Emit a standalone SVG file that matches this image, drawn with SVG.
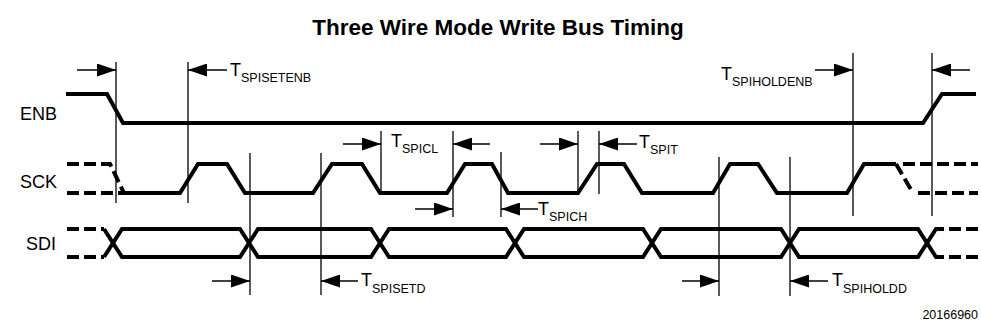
<svg xmlns="http://www.w3.org/2000/svg" width="981" height="328" viewBox="0 0 981 328">
<style>
  text { font-family: "Liberation Sans", Arial, sans-serif; fill: #000; }
  .title { font-size: 22.5px; font-weight: bold; }
  .lbl { font-size: 18px; }
  .t { font-size: 18px; }
  .sub { font-size: 12.5px; }
  .sig { fill: none; stroke: #000; stroke-width: 4; stroke-linejoin: miter; stroke-linecap: butt; }
  .dash { fill: none; stroke: #000; stroke-width: 4; stroke-dasharray: 12 5; }
  .vl { stroke: #000; stroke-width: 1.3; }
  .ar { stroke: #000; stroke-width: 1.3; marker-end: url(#ah); }
  .fig { font-size: 12.5px; }
</style>
<defs>
  <marker id="ah" viewBox="0 0 19 13" refX="19" refY="6.5" markerWidth="19" markerHeight="13" markerUnits="userSpaceOnUse" orient="auto">
    <path d="M0,0 L19,6.5 L0,13 Z" fill="#000"/>
  </marker>
</defs>
<rect width="981" height="328" fill="#fff"/>
<text class="title" x="498" y="35" text-anchor="middle">Three Wire Mode Write Bus Timing</text>

<g id="ENB">
  <text class="lbl" x="57" y="120" text-anchor="end">ENB</text>
  <path class="sig" d="M66,94 H107 L123,123 H923 L942,94 H976"/>
</g>

<g id="SCK">
  <text class="lbl" x="57" y="188" text-anchor="end">SCK</text>
  <path class="dash" d="M67,164 H110 L124,193"/>
  <path class="dash" d="M67,193 H123"/>
  <path class="sig" d="M123,193 H180 L198,164 H227 L245,193 H313 L332,164 H362 L380,193 H447 L465,164 H492 L508,193 H578 L597,164 H624 L642,193 H713 L730,164 H758 L777,193 H847 L864,164 H896"/>
  <path class="dash" d="M896,164 L913,193 M903,164 H978 M918,193 H978"/>
</g>

<g id="SDI">
  <text class="lbl" x="56" y="250" text-anchor="end">SDI</text>
  <path class="dash" d="M67,229 H104 M67,257 H104"/>
  <path class="sig" d="M104,229 L122,257 H240 L258,229 H371 L389,257 H506 L524,229 H643 L661,257 H781 L799,229 H918 L936,257 H944"/>
  <path class="sig" d="M104,257 L122,229 H240 L258,257 H371 L389,229 H506 L524,257 H643 L661,229 H781 L799,257 H918 L936,229 H944"/>
  <path class="dash" d="M949,229 H978 M949,257 H978"/>
</g>

<g id="connectors">
  <line class="vl" x1="116" y1="62" x2="116" y2="203"/>
  <line class="vl" x1="188" y1="62" x2="188" y2="203"/>
  <line class="vl" x1="250" y1="153" x2="250" y2="295"/>
  <line class="vl" x1="321" y1="153" x2="321" y2="295"/>
  <line class="vl" x1="381" y1="131" x2="381" y2="194"/>
  <line class="vl" x1="453" y1="131" x2="453" y2="217"/>
  <line class="vl" x1="501" y1="152" x2="501" y2="217"/>
  <line class="vl" x1="578" y1="131" x2="578" y2="194"/>
  <line class="vl" x1="599" y1="131" x2="599" y2="194"/>
  <line class="vl" x1="719" y1="157" x2="719" y2="296"/>
  <line class="vl" x1="790" y1="157" x2="790" y2="296"/>
  <line class="vl" x1="853" y1="53" x2="853" y2="216"/>
  <line class="vl" x1="932" y1="53" x2="932" y2="216"/>

  <line class="ar" x1="77" y1="70" x2="116" y2="70"/>
  <line class="ar" x1="227" y1="70" x2="188" y2="70"/>
  <line class="ar" x1="815" y1="70" x2="853" y2="70"/>
  <line class="ar" x1="970" y1="70" x2="932" y2="70"/>
  <line class="ar" x1="343" y1="144" x2="381" y2="144"/>
  <line class="ar" x1="490" y1="144" x2="453" y2="144"/>
  <line class="ar" x1="540" y1="144" x2="578" y2="144"/>
  <line class="ar" x1="637" y1="144" x2="599" y2="144"/>
  <line class="ar" x1="415" y1="209" x2="453" y2="209"/>
  <line class="ar" x1="538" y1="209" x2="501" y2="209"/>
  <line class="ar" x1="212" y1="281" x2="250" y2="281"/>
  <line class="ar" x1="358" y1="281" x2="321" y2="281"/>
  <line class="ar" x1="682" y1="281" x2="719" y2="281"/>
  <line class="ar" x1="828" y1="281" x2="790" y2="281"/>
</g>

<g id="labels">
  <text x="230" y="76"><tspan class="t">T</tspan><tspan class="sub" dy="6">SPISETENB</tspan></text>
  <text x="721" y="80"><tspan class="t">T</tspan><tspan class="sub" dy="6">SPIHOLDENB</tspan></text>
  <text x="391" y="147"><tspan class="t">T</tspan><tspan class="sub" dy="6">SPICL</tspan></text>
  <text x="639" y="148"><tspan class="t">T</tspan><tspan class="sub" dy="6">SPIT</tspan></text>
  <text x="538" y="215"><tspan class="t">T</tspan><tspan class="sub" dy="6">SPICH</tspan></text>
  <text x="361" y="286"><tspan class="t">T</tspan><tspan class="sub" dy="7">SPISETD</tspan></text>
  <text x="832" y="286"><tspan class="t">T</tspan><tspan class="sub" dy="7">SPIHOLDD</tspan></text>
  <text class="fig" x="978" y="319" text-anchor="end">20166960</text>
</g>
</svg>
